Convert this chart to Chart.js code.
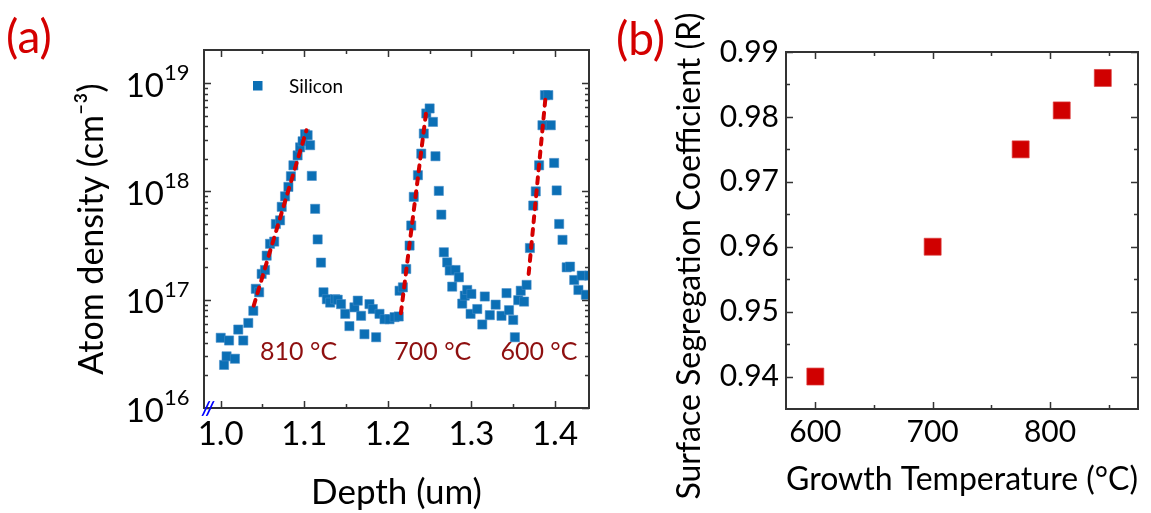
<!DOCTYPE html>
<html>
<head>
<meta charset="utf-8">
<script src="https://cdn.jsdelivr.net/npm/chart.js@4"></script>
<style>
  html, body { margin: 0; padding: 0; background: #fff; }
  #wrap { position: relative; width: 1151px; height: 513px; }
  canvas { position: absolute; top: 0; }
  #left { left: 0; }
  #right { left: 615px; }
</style>
</head>
<body>
<div id="wrap">
  <canvas id="left" width="615" height="513"></canvas>
  <canvas id="right" width="536" height="513"></canvas>
</div>
<script>
// panel (a): SIMS profile
const depth = [
  1.000, 1.010, 1.004, 1.007, 1.017, 1.021, 1.027, 1.033, 1.039, 1.042, 1.046, 1.049,
  1.053, 1.055, 1.059, 1.064, 1.066, 1.071, 1.073, 1.077, 1.081, 1.084, 1.087, 1.092,
  1.095, 1.098, 1.101, 1.104, 1.107, 1.109, 1.113, 1.116, 1.120, 1.123, 1.127,
  1.131, 1.137, 1.140, 1.144, 1.149, 1.154, 1.160, 1.164, 1.168, 1.172, 1.178, 1.182,
  1.186, 1.190, 1.196, 1.202, 1.208, 1.213,
  1.214, 1.218, 1.222, 1.226, 1.228, 1.231, 1.236, 1.240, 1.243, 1.246, 1.250, 1.254,
  1.257, 1.261, 1.264, 1.267, 1.271, 1.274, 1.277,
  1.281, 1.285, 1.289, 1.292, 1.295, 1.299, 1.300, 1.307, 1.313, 1.316, 1.322, 1.329,
  1.336, 1.342, 1.345, 1.350, 1.352, 1.356, 1.359, 1.363, 1.366,
  1.370, 1.374, 1.377, 1.381, 1.385, 1.388, 1.392, 1.395, 1.399, 1.402, 1.405, 1.409,
  1.414, 1.418, 1.423, 1.428, 1.432, 1.437, 1.441
];
const density = [
  4.45e16, 4.2e16, 2.5e16, 3.0e16, 2.85e16, 5.3e16, 4.2e16, 6.1e16, 7.9e16, 1.26e17, 1.17e17, 1.73e17,
  1.88e17, 2.55e17, 3.28e17, 3.44e17, 5.0e17, 5.4e17, 7.2e17, 9.0e17, 1.10e18, 1.38e18, 1.74e18, 2.15e18,
  2.55e18, 2.9e18, 3.37e18, 3.3e18, 2.67e18, 1.39e18, 6.9e17, 3.6e17, 2.2e17, 1.17e17, 1.01e17,
  9.4e16, 1.01e17, 1.0e17, 9.1e16, 7.4e16, 5.7e16, 8.5e16, 9.8e16, 7.1e16, 4.8e16, 9.1e16, 8.2e16,
  4.5e16, 7.4e16, 6.6e16, 6.6e16, 6.9e16, 7.0e16,
  1.21e17, 1.30e17, 1.92e17, 3.16e17, 4.84e17, 8.9e17, 1.41e18, 2.23e18, 3.42e18, 5.24e18, 5.83e18, 4.38e18,
  2.11e18, 1.01e18, 6.1e17, 2.74e17, 2.21e17, 1.86e17, 1.32e17,
  1.88e17, 1.61e17, 9.2e16, 1.09e17, 1.23e17, 7.4e16, 1.13e17, 8.2e16, 5.9e16, 1.07e17, 7.2e16, 9.0e16,
  7.1e16, 1.15e17, 8.0e16, 6.5e16, 4.5e16, 9.9e16, 1.21e17, 9.6e16, 1.37e17,
  3.0e17, 7.4e17, 1.0e18, 1.74e18, 4.08e18, 7.74e18, 7.74e18, 4.08e18, 1.83e18, 1.02e18, 5.0e17, 3.57e17,
  1.99e17, 2.02e17, 1.52e17, 1.23e17, 1.67e17, 1.11e17, 1.67e17
];
// exponential fits of the rising edges
const fit810Depth = [1.0395, 1.1026];
const fit810Density = [8.8e16, 3.67e18];
const fit700Depth = [1.2156, 1.2458];
const fit700Density = [7.5e16, 5.4e18];
const fit600Depth = [1.3685, 1.3889];
const fit600Density = [1.73e17, 7.7e18];
const depthTicks = [1.0, 1.1, 1.2, 1.3, 1.4];
const densityTicks = [1e16, 1e17, 1e18, 1e19];
const peakLabels = ['810 °C', '700 °C', '600 °C'];

// panel (b): segregation coefficient
const temperature = [600, 700, 775, 810, 845];
const coefficient = [0.940, 0.960, 0.975, 0.981, 0.986];
const tempTicks = [600, 700, 800];
const coefTicks = [0.94, 0.95, 0.96, 0.97, 0.98, 0.99];

const FONT = 'Lato, "Open Sans", sans-serif';
Chart.defaults.font.family = FONT;
Chart.defaults.color = '#000';

function pts(xs, ys) { return xs.map((x, i) => ({ x: x, y: ys[i] })); }

function linearMinors(majors, min, max) {
  const half = (majors[1] - majors[0]) / 2, out = [];
  for (let i = -4; i < 2 * majors.length + 4; i++) {
    const v = majors[0] + half * i;
    if (i % 2 !== 0 && v > min + half * 0.01 && v < max - half * 0.01) out.push(v);
  }
  return out;
}
function logMinors(majors) {
  const out = [];
  majors.slice(0, -1).forEach(m => { for (let k = 2; k < 10; k++) out.push(m * k); });
  return out;
}

// box frame + inward ticks on all four sides
const frame = {
  id: 'frame',
  afterDraw(chart, args, o) {
    const { ctx, chartArea: a } = chart;
    const xs = chart.scales.x, ys = chart.scales.y;
    ctx.save();
    ctx.strokeStyle = '#333';
    ctx.lineWidth = 1.5;
    const draw = (scale, vals, len) => vals.forEach(v => {
      const p = Math.round(scale.getPixelForValue(v)) + 0.5;
      ctx.beginPath();
      if (scale.isHorizontal()) {
        ctx.moveTo(p, a.bottom); ctx.lineTo(p, a.bottom - len);
        ctx.moveTo(p, a.top); ctx.lineTo(p, a.top + len);
      } else {
        ctx.moveTo(a.left, p); ctx.lineTo(a.left + len, p);
        ctx.moveTo(a.right, p); ctx.lineTo(a.right - len, p);
      }
      ctx.stroke();
    });
    draw(xs, o.xMajor, 7); draw(xs, o.xMinor, 4);
    draw(ys, o.yMajor, 7); draw(ys, o.yMinor, 4);
    ctx.lineWidth = 2;
    ctx.strokeRect(a.left, a.top, a.right - a.left, a.bottom - a.top);
    ctx.restore();
  }
};

// power-of-ten labels, legend, peak labels, panel tag
const leftText = {
  id: 'leftText',
  afterDraw(chart) {
    const { ctx, chartArea: a } = chart;
    const xs = chart.scales.x, ys = chart.scales.y;
    ctx.save();
    ctx.fillStyle = '#000';
    densityTicks.forEach(v => {
      const p = ys.getPixelForValue(v);
      ctx.textBaseline = 'alphabetic';
      ctx.font = '33px ' + FONT;
      ctx.textAlign = 'right';
      ctx.fillText('10', 164, p + 13.5);
      ctx.font = '22px ' + FONT;
      ctx.textAlign = 'left';
      ctx.fillText(String(Math.round(Math.log10(v))), 164, p - 3);
    });
    // legend
    ctx.fillStyle = '#0B6FB5';
    ctx.fillRect(253, 81, 9.5, 9.5);
    ctx.fillStyle = '#000';
    ctx.font = '19px ' + FONT;
    ctx.textAlign = 'left';
    ctx.textBaseline = 'middle';
    ctx.fillText('Silicon', 289, 86.5);
    // peak temperatures
    ctx.fillStyle = '#8E0F0F';
    ctx.font = '25px ' + FONT;
    ctx.textAlign = 'center';
    const at = [1.0932, 1.2538, 1.3808];
    peakLabels.forEach((t, i) => ctx.fillText(t, xs.getPixelForValue(at[i]), 352));
    // axis break mark
    ctx.fillStyle = '#0000FF';
    ctx.font = 'italic bold 19px ' + FONT;
    ctx.fillText('//', a.left + 4, a.bottom + 1);
    // panel tag
    ctx.fillStyle = '#D40000';
    ctx.font = '46px ' + FONT;
    ctx.textAlign = 'left';
    ctx.fillText('(a)', 6, 38);
    ctx.restore();
  }
};

const rightText = {
  id: 'rightText',
  afterDraw(chart) {
    const { ctx } = chart;
    ctx.save();
    ctx.fillStyle = '#D40000';
    ctx.font = '46px ' + FONT;
    ctx.textAlign = 'left';
    ctx.textBaseline = 'middle';
    ctx.fillText('(b)', 1, 40);
    ctx.fillStyle = '#000';
    ctx.font = '32px ' + FONT;
    ctx.translate(75, 256);
    ctx.rotate(-Math.PI / 2);
    ctx.textAlign = 'center';
    ctx.fillText('Surface Segregation Coefficient (R)', 0, 0);
    ctx.restore();
  }
};

new Chart(document.getElementById('left'), {
  type: 'scatter',
  data: {
    datasets: [
      { data: pts(fit810Depth, fit810Density), showLine: true, order: 0 },
      { data: pts(fit700Depth, fit700Density), showLine: true, order: 0 },
      { data: pts(fit600Depth, fit600Density), showLine: true, order: 0 },
      {
        label: 'Silicon', data: pts(depth, density), order: 1,
        pointStyle: 'rect', pointRadius: 6.5, pointHoverRadius: 6.5,
        backgroundColor: '#0B6FB5', borderColor: 'rgba(70,140,200,0.55)', borderWidth: 1
      }
    ].map(d => d.showLine ? Object.assign(d, {
      borderColor: '#D50000', borderWidth: 4, borderDash: [6, 7], borderCapStyle: 'round',
      pointRadius: 0, pointHoverRadius: 0
    }) : d)
  },
  options: {
    responsive: false,
    animation: false,
    events: [],
    layout: { padding: { left: 0, right: 26, top: 50, bottom: 0 } },
    plugins: {
      legend: { display: false },
      tooltip: { enabled: false },
      frame: {
        xMajor: depthTicks, xMinor: linearMinors(depthTicks, 0.98, 1.4407),
        yMajor: densityTicks, yMinor: logMinors(densityTicks)
      }
    },
    scales: {
      x: {
        type: 'linear', min: 0.98, max: 1.4407,
        afterBuildTicks: s => { s.ticks = depthTicks.map(v => ({ value: v })); },
        afterFit: s => { s.height = 105; },
        grid: { display: false, drawTicks: false },
        border: { display: false },
        ticks: { padding: 7, font: { size: 33 }, maxRotation: 0, autoSkip: false, callback: v => v.toFixed(1) },
        title: { display: true, text: 'Depth (um)', font: { size: 35 }, padding: { top: 0, bottom: -1 } }
      },
      y: {
        type: 'logarithmic', min: 1e16, max: 2.02e19,
        afterBuildTicks: s => { s.ticks = densityTicks.map(v => ({ value: v })); },
        afterFit: s => { s.width = 204; },
        grid: { display: false, drawTicks: false },
        border: { display: false },
        ticks: { display: false },
        title: { display: true, text: 'Atom density (cm⁻³)', font: { size: 34 }, padding: { top: 72, bottom: 0 } }
      }
    }
  },
  plugins: [frame, leftText]
});

new Chart(document.getElementById('right'), {
  type: 'scatter',
  data: {
    datasets: [{
      label: 'R', data: pts(temperature, coefficient),
      pointStyle: 'rect', pointRadius: 12, pointHoverRadius: 12,
      backgroundColor: '#D00000', borderColor: 'rgba(220,60,60,0.7)', borderWidth: 1
    }]
  },
  options: {
    responsive: false,
    animation: false,
    events: [],
    layout: { padding: { left: 0, right: 8, top: 52, bottom: 0 } },
    plugins: {
      legend: { display: false },
      tooltip: { enabled: false },
      frame: {
        xMajor: tempTicks, xMinor: linearMinors(tempTicks, 575, 875),
        yMajor: coefTicks, yMinor: linearMinors(coefTicks, 0.935, 0.99)
      }
    },
    scales: {
      x: {
        type: 'linear', min: 575, max: 875,
        afterBuildTicks: s => { s.ticks = tempTicks.map(v => ({ value: v })); },
        afterFit: s => { s.height = 104; },
        grid: { display: false, drawTicks: false },
        border: { display: false },
        ticks: { padding: 5.5, font: { size: 30 }, maxRotation: 0, autoSkip: false, callback: v => String(v) },
        title: { display: true, text: 'Growth Temperature (°C)', font: { size: 32 }, padding: { top: 0, bottom: 14 } }
      },
      y: {
        type: 'linear', min: 0.935, max: 0.99,
        afterBuildTicks: s => { s.ticks = coefTicks.map(v => ({ value: v })); },
        afterFit: s => { s.width = 171; },
        grid: { display: false, drawTicks: false },
        border: { display: false },
        ticks: { padding: 7, font: { size: 30 }, autoSkip: false, callback: v => v.toFixed(2) },
        title: { display: false }
      }
    }
  },
  plugins: [frame, rightText]
});
</script>
</body>
</html>
